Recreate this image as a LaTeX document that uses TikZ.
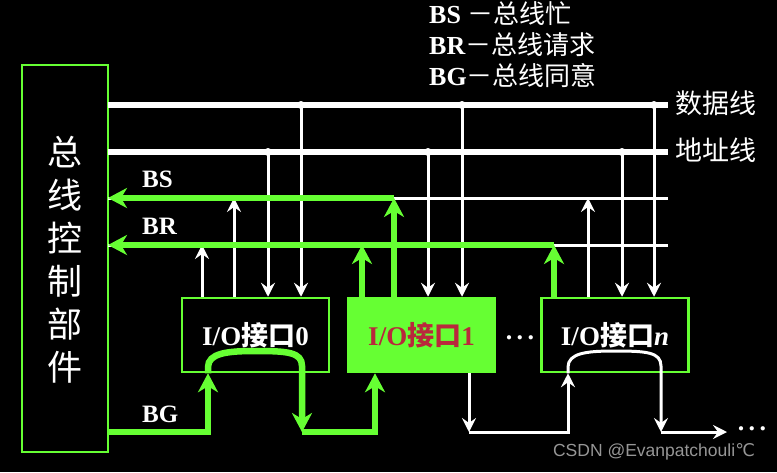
\documentclass[tikz,border=0pt]{standalone}
\usepackage{fontspec}
\setmainfont{Liberation Serif}
\newfontfamily\cjk{Noto Sans CJK SC}
\newfontfamily\wmfont{Liberation Sans}
\newfontfamily\symfont{DejaVu Sans}
\usetikzlibrary{arrows.meta}
\definecolor{bgreen}{RGB}{102,255,51}
\definecolor{iored}{RGB}{185,40,60}
\definecolor{wmgray}{RGB}{150,150,150}
\begin{document}
\begin{tikzpicture}[x=1pt,y=-1pt,
  bus/.style={white,line width=6.5pt},
  wline/.style={white,line width=3pt},
  warr/.style={white,line width=3pt,-{Stealth[length=14pt,width=14pt,inset=5pt]}},
  garr/.style={bgreen,line width=6.5pt,-{Stealth[length=19pt,width=20pt,inset=6pt]}},
  iobox/.style={draw=bgreen,line width=2.5pt,minimum width=147pt,minimum height=74pt,inner sep=0pt,
    font=\fontsize{27}{30}\selectfont\bfseries},
  lbl/.style={text=white,font=\fontsize{25}{28}\selectfont\bfseries,inner sep=0pt},
  leg/.style={text=white,font=\fontsize{26}{28}\selectfont\bfseries,inner sep=0pt},
  cjklbl/.style={text=white,font=\cjk\fontsize{27}{30}\selectfont,inner sep=0pt},
  vchar/.style={text=white,font=\cjk\fontsize{35}{38}\selectfont,inner sep=0pt},
  dots/.style={text=white,font=\fontsize{26}{28}\selectfont\bfseries,inner sep=0pt},
  jdot/.style={white},
]
\fill[black] (0,0) rectangle (777,472);
\useasboundingbox (0,0) rectangle (777,472);

% legend
\node[leg,anchor=west] (lg1) at (429,14) {BS {\cjk\mdseries －总线忙}};
\node[leg,anchor=west] (lg2) at (429,45) {BR{\cjk\mdseries －总线请求}};
\node[leg,anchor=west] (lg3) at (429,76) {BG{\cjk\mdseries －总线同意}};

% control unit
\node[draw=bgreen,line width=2.5pt,minimum width=86pt,minimum height=387pt,inner sep=0pt] (ctl) at (65,258.5) {};
\foreach \c [count=\i from 0] in {总,线,控,制,部,件}
  \node[vchar] (c\i) at (65,152+43*\i) {\c};

% I/O boxes
\node[iobox,text=white] (b0) at (255.5,335) {I/O{\cjk 接口}0};
\node[iobox,fill=bgreen,text=iored] (b1) at (421.5,335) {I/O{\cjk 接口}1};
\node[iobox,text=white] (bn) at (615,335) {I/O{\cjk 接口}\textit{n}};
\node[dots] (md) at (520,338) {.\,.\,.};

% bus line ends
\coordinate (dL) at (108,105); \coordinate (dR) at (668,105);
\coordinate (aL) at (108,152); \coordinate (aR) at (668,152);
\coordinate (sL) at (108,198); \coordinate (sR) at (668,198);
\coordinate (rL) at (108,245); \coordinate (rR) at (668,245);

\draw[bus] (dL) -- (dR);
\draw[bus] (aL) -- (aR);
\draw[wline] (sL) -- (sR);
\draw[wline] (rL) -- (rR);

\node[cjklbl,anchor=west] (dlab) at (675,103) {数据线};
\node[cjklbl,anchor=west] (alab) at (675,150) {地址线};

% junctions
\coordinate (r0) at (202,245); \coordinate (s0) at (234,198);
\coordinate (a0) at (268,152); \coordinate (d0) at (301,105);
\coordinate (r1) at (362,245); \coordinate (s1) at (394,198);
\coordinate (a1) at (428,152); \coordinate (d1) at (462,105);
\coordinate (rn) at (554,245); \coordinate (sn) at (588,198);
\coordinate (an) at (622,152); \coordinate (dn) at (654,105);

% white vertical connections
\draw[warr] (r0 |- b0.north) -- (r0);
\draw[warr] (s0 |- b0.north) -- (s0);
\draw[warr] (a0) -- (a0 |- b0.north);
\draw[warr] (d0) -- (d0 |- b0.north);
\draw[warr] (a1) -- (a1 |- b1.north);
\draw[warr] (d1) -- (d1 |- b1.north);
\draw[warr] (sn |- bn.north) -- (sn);
\draw[warr] (an) -- (an |- bn.north);
\draw[warr] (dn) -- (dn |- bn.north);
\foreach \p in {a0,d0,a1,d1,an,dn} \fill[jdot] (\p) circle (4pt);

% green request / busy
\draw[garr] (s1) -- (sL);
\draw[garr] (rn) -- (rL);
\draw[garr] (r1 |- b1.north) -- (r1);
\draw[garr] (s1 |- b1.north) -- (s1);
\draw[garr] (rn |- bn.north) -- (rn);

% labels
\node[lbl,anchor=base west] (lbs) at (142,187) {BS};
\node[lbl,anchor=base west] (lbr) at (142,234) {BR};
\node[lbl,anchor=base west] (lbg) at (142,422) {BG};

% BG daisy chain (green)
\coordinate (gL) at (108,432);
\coordinate (g1) at (208,432);
\coordinate (t0) at (255,351);
\coordinate (k0) at (302,366);
\coordinate (g2) at (302,432);
\coordinate (g3) at (375,432);
\draw[garr] (gL) -- (g1) -- (g1 |- b0.south);
\draw[garr] (g1 |- b0.south) -- ++(0,-6) .. controls +(0,-14) and +(-28,0) .. (t0)
   .. controls +(32,0) and +(0,-14) .. (k0) -- (g2);
\draw[garr] (g2) -- (g3) -- (g3 |- b1.south);

% BG daisy chain (white)
\coordinate (w1) at (469,432);
\coordinate (w2) at (568,432);
\coordinate (tn) at (614,351);
\coordinate (kn) at (661,366);
\coordinate (w3) at (661,432);
\coordinate (wE) at (727,432);
\draw[warr] (w1 |- b1.south) -- (w1);
\draw[warr] (w1) -- (w2) -- (w2 |- bn.south);
\draw[warr] (w2 |- bn.south) -- ++(0,-6) .. controls +(0,-14) and +(-28,0) .. (tn)
   .. controls +(32,0) and +(0,-14) .. (kn) -- (w3);
\draw[warr] (w3) -- (wE);
\node[dots] (ed) at (752,429) {.\,.\,.};

% watermark
\node[text=wmgray,font=\wmfont\fontsize{17.5}{20}\selectfont,inner sep=0pt] (wm) at (654,452) {CSDN @Evanpatchouli{\symfont ℃}};
\end{tikzpicture}
\end{document}
